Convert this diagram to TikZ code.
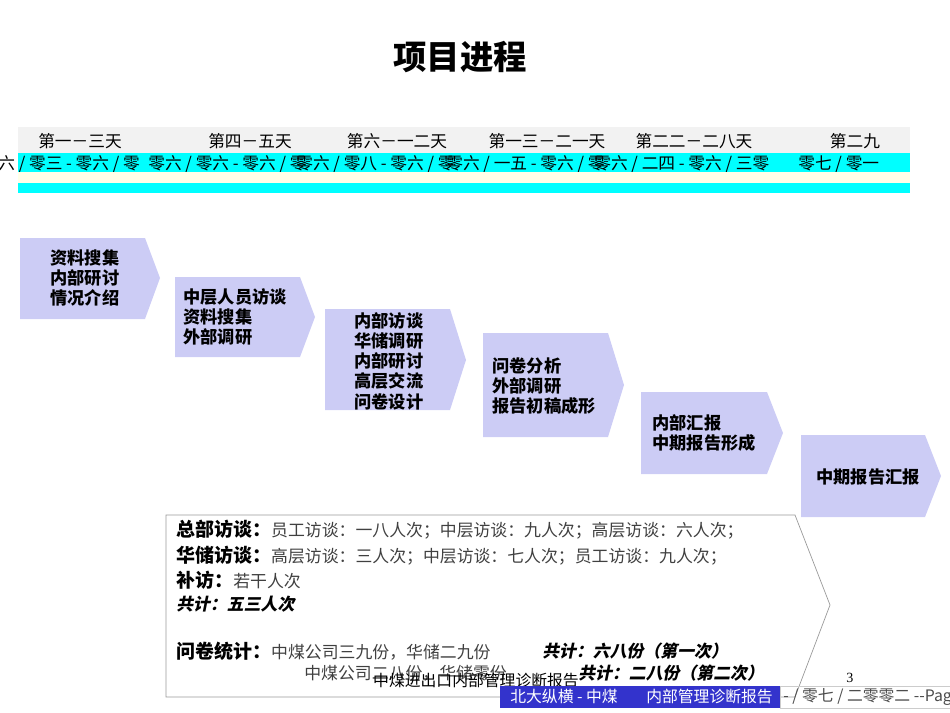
\documentclass[tikz,border=0pt]{standalone}
\usepackage{fontspec}
\setmainfont{Liberation Serif}
\newfontfamily\cjk{Noto Sans CJK SC}
\newfontfamily\cjkit[FakeSlant=0.2]{Noto Sans CJK SC}
\usetikzlibrary{positioning}
\definecolor{L1}{HTML}{CCCCF5}
\definecolor{C1}{HTML}{00FFFF}
\definecolor{Y1}{HTML}{FFFFE8}
\definecolor{G1}{HTML}{F2F2F2}
\definecolor{B1}{HTML}{3333CC}
\begin{document}
\begin{tikzpicture}[x=0.02cm, y=-0.02cm,
  chev/.style = {fill=L1, draw=none},
  steptext/.style = {anchor=west, align=left, font=\cjk\bfseries\fontsize{9.8}{11.5}\selectfont, inner sep=0pt},
  colhead/.style = {font=\cjk\fontsize{9.5}{10}\selectfont, inner sep=0pt},
  datetext/.style = {anchor=west, font=\cjk\fontsize{9.5}{10}\selectfont, inner sep=0pt},
  notetext/.style = {anchor=west, font=\cjk\fontsize{9.6}{11}\selectfont, inner sep=0pt, text=black!75}
]
  \useasboundingbox (0,0) rectangle (950,713);
  \clip (0,0) rectangle (950,713);
  % Title
  \node[font=\cjk\bfseries\fontsize{19}{22}\selectfont] (title) at (460,57) {项目进程};

  % Timeline strips
  \fill[G1] (18,127) rectangle (910,153);
  \fill[C1] (18,153) rectangle (910,172);
  \fill[Y1] (18,172) rectangle (910,183);
  \fill[C1] (18,183) rectangle (910,193);
  \node[colhead] (h1) at (80,141) {第一－三天};
  \node[colhead] (h2) at (250,141) {第四－五天};
  \node[colhead] (h3) at (397,141) {第六－一二天};
  \node[colhead] (h4) at (547,141) {第一三－二一天};
  \node[colhead] (h5) at (694,141) {第二二－二八天};
  \node[colhead] (h6) at (855,141) {第二九};
  \node[datetext] (d1) at (-2,164) {六 / 零三 - 零六 / 零};
  \node[datetext] (d2) at (148,164) {零六 / 零六 - 零六 / 零};
  \node[datetext] (d3) at (296,164) {零六 / 零八 - 零六 / 零};
  \node[datetext] (d4) at (446,164) {零六 / 一五 - 零六 / 零};
  \node[datetext] (d5) at (594,164) {零六 / 二四 - 零六 / 三零};
  \node[datetext] (d6) at (798,164) {零七 / 零一};

  % Step chevrons
  \fill[chev] (20,238) -- (145,238) -- (160,278) -- (145,319) -- (20,319) -- cycle;
  \fill[chev] (175,277) -- (300,277) -- (315,317) -- (300,357) -- (175,357) -- cycle;
  \fill[chev] (325,309) -- (450,309) -- (466,360) -- (450,410) -- (325,410) -- cycle;
  \fill[chev] (483,333) -- (608,333) -- (624,385) -- (608,437) -- (483,437) -- cycle;
  \fill[chev] (641,392) -- (767,392) -- (783,433) -- (767,474) -- (641,474) -- cycle;
  \fill[chev] (801,435) -- (925,435) -- (941,476) -- (925,517) -- (801,517) -- cycle;
  \node[steptext] (s1) at (50,278) {资料搜集\\内部研讨\\情况介绍};
  \node[steptext] (s2) at (183,317) {中层人员访谈\\资料搜集\\外部调研};
  \node[steptext] (s3) at (354,361) {内部访谈\\华储调研\\内部研讨\\高层交流\\问卷设计};
  \node[steptext] (s4) at (492,386) {问卷分析\\外部调研\\报告初稿成形};
  \node[steptext] (s5) at (652,433) {内部汇报\\中期报告形成};
  \node[steptext, anchor=center] (s6) at (868,477) {中期报告汇报};

  % Summary arrow
  \draw[black!40, thin] (166,515) -- (795,515) -- (830,605) -- (795,697) -- (166,697) -- cycle;
  \node[notetext] (n1) at (176,530) {\textcolor{black}{\bfseries\fontsize{10.8}{12}\selectfont 总部访谈：}员工访谈：一八人次；中层访谈：九人次；高层访谈：六人次；};
  \node[notetext] (n2) at (176,556) {\textcolor{black}{\bfseries\fontsize{10.8}{12}\selectfont 华储访谈：}高层访谈：三人次；中层访谈：七人次；员工访谈：九人次；};
  \node[notetext] (n3) at (176,580) {\textcolor{black}{\bfseries\fontsize{10.8}{12}\selectfont 补访：}若干人次};
  \node[notetext, text=black, font=\cjkit\bfseries\fontsize{9.6}{11}\selectfont] (n4) at (176,604) {共计：五三人次};
  \node[notetext] (n5) at (176,651) {\textcolor{black}{\bfseries\fontsize{10.8}{12}\selectfont 问卷统计：}中煤公司三九份，华储二九份};
  \node[notetext, text=black, font=\cjkit\bfseries\fontsize{9.6}{11}\selectfont] (n6) at (542,651) {共计：六八份（第一次）};
  \node[notetext] (n7) at (304,673) {中煤公司二八份，华储零份};
  \node[notetext, text=black, font=\cjkit\bfseries\fontsize{9.6}{11}\selectfont] (n8) at (578,673) {共计：二八份（第二次）};

  % Footer
  \node[font=\cjk\fontsize{9}{10}\selectfont, inner sep=0pt] (ftitle) at (476,681) {中煤进出口内部管理诊断报告};
  \node[font=\fontsize{8}{10}\selectfont] (pnum) at (850,678) {3};
  \fill[B1] (500,686) rectangle (780,708);
  \draw[black!20] (780,686) rectangle (955,708);
  \node[datetext, text=white, font=\cjk\fontsize{9}{10}\selectfont] (f1) at (510,697) {北大纵横 - 中煤\hspace{1.8em}内部管理诊断报告};
  \node[datetext, text=black!70, font=\cjk\fontsize{9}{10}\selectfont] (f2) at (783,697) {- / 零七 / 二零零二 --Page};
\end{tikzpicture}
\end{document}
